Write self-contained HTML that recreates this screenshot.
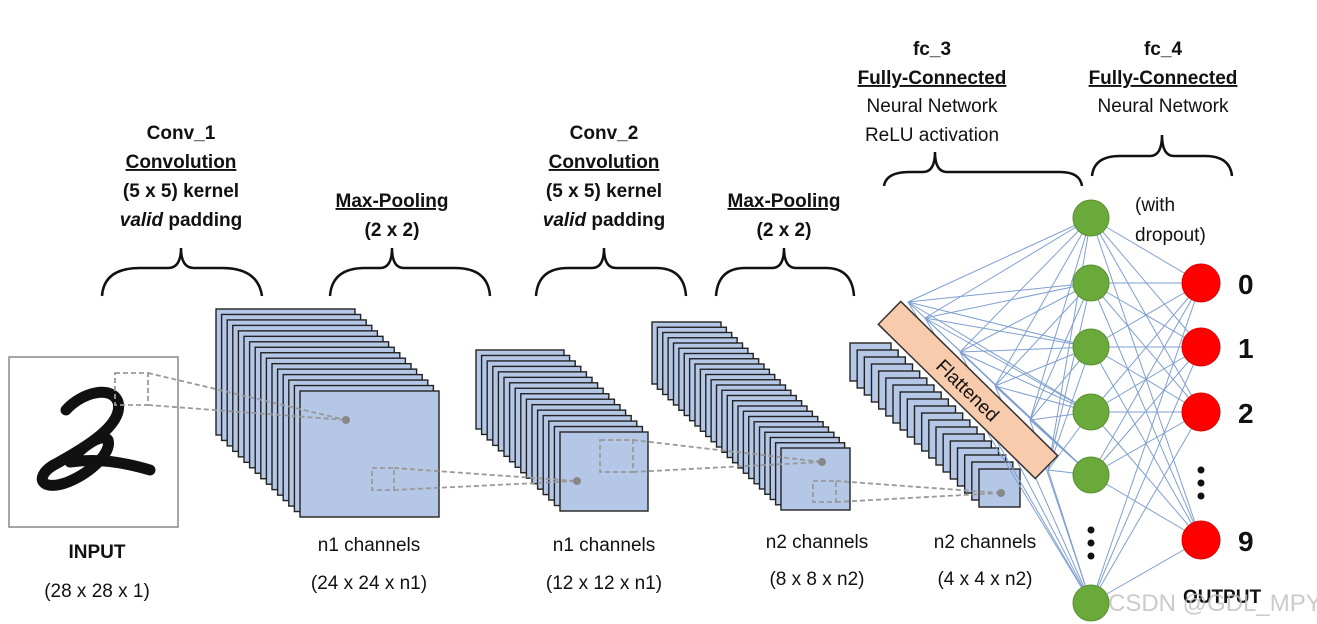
<!DOCTYPE html>
<html><head><meta charset="utf-8"><style>
html,body{margin:0;padding:0;background:#fff;}
svg{display:block;}
text{font-family:"Liberation Sans",sans-serif;font-size:19px;fill:#111;}
.b{font-weight:bold;}
.c{text-anchor:middle;}
</style></head><body>
<svg id="s" width="1317" height="624" viewBox="0 0 1317 624" xmlns="http://www.w3.org/2000/svg">
<g id="braces" fill="none" stroke="#111" stroke-width="2.5">
<path d="M102,296 Q104,268 140,268 L168,268 Q181,268 181,248 Q181,268 194,268 L222,268 Q258,268 262,296"/>
<path d="M330,296 Q332,268 365,268 L380,268 Q392,268 392,248 Q392,268 404,268 L455,268 Q488,268 490,296"/>
<path d="M536,296 Q538,268 568,268 L592,268 Q604,268 604,248 Q604,268 616,268 L656,268 Q684,268 686,296"/>
<path d="M716,296 Q718,268 745,268 L772,268 Q784,268 784,248 Q784,268 796,268 L826,268 Q852,268 854,296"/>
<path d="M884,186 Q886,172 910,172 L923,172 Q935,172 935,152 Q935,172 947,172 L1060,172 Q1080,172 1082,186"/>
<path d="M1092,176 Q1094,156 1120,156 L1150,156 Q1162,156 1162,135 Q1162,156 1174,156 L1205,156 Q1230,156 1232,176"/>
</g>
<g>
<text class="b c" x="181" y="139">Conv_1</text>
<text class="b c" x="181" y="168" text-decoration="underline">Convolution</text>
<text class="b c" x="181" y="197">(5 x 5) kernel</text>
<text class="b c" x="181" y="226"><tspan font-style="italic">valid</tspan> padding</text>
<text class="b c" x="392" y="207" text-decoration="underline">Max-Pooling</text>
<text class="b c" x="392" y="236">(2 x 2)</text>
<text class="b c" x="604" y="139">Conv_2</text>
<text class="b c" x="604" y="168" text-decoration="underline">Convolution</text>
<text class="b c" x="604" y="197">(5 x 5) kernel</text>
<text class="b c" x="604" y="226"><tspan font-style="italic">valid</tspan> padding</text>
<text class="b c" x="784" y="207" text-decoration="underline">Max-Pooling</text>
<text class="b c" x="784" y="236">(2 x 2)</text>
<text class="b c" x="932" y="55">fc_3</text>
<text class="b c" x="932" y="84" text-decoration="underline">Fully-Connected</text>
<text class="c" x="932" y="112">Neural Network</text>
<text class="c" x="932" y="141">ReLU activation</text>
<text class="b c" x="1163" y="55">fc_4</text>
<text class="b c" x="1163" y="84" text-decoration="underline">Fully-Connected</text>
<text class="c" x="1163" y="112">Neural Network</text>
<text x="1135" y="211">(with</text>
<text x="1135" y="241">dropout)</text>
<text class="b c" x="97" y="558">INPUT</text>
<text class="c" x="97" y="597">(28 x 28 x 1)</text>
<text class="c" x="369" y="551">n1 channels</text>
<text class="c" x="369" y="589">(24 x 24 x n1)</text>
<text class="c" x="604" y="551">n1 channels</text>
<text class="c" x="604" y="589">(12 x 12 x n1)</text>
<text class="c" x="817" y="548">n2 channels</text>
<text class="c" x="817" y="585">(8 x 8 x n2)</text>
<text class="c" x="985" y="548">n2 channels</text>
<text class="c" x="985" y="585">(4 x 4 x n2)</text>
</g>
<rect x="9" y="357" width="169" height="170" fill="#fff" stroke="#888" stroke-width="1.5"/>
<path d="M66,410 C82,392 112,385 118,402 C124,425 85,448 52,466 C34,478 42,492 68,482 C92,472 112,452 108,440 C102,432 80,448 70,462 C98,458 122,462 150,470" fill="none" stroke="#111" stroke-width="11" stroke-linejoin="round" stroke-linecap="round"/>
<g id="stacks"></g>
<g fill="none" stroke="#999" stroke-width="1.8" stroke-dasharray="5,3">
<rect x="115" y="373" width="33" height="32"/>
<path d="M148,373 L346,420 M148,405 L346,420"/>
<rect x="372" y="468" width="22" height="22"/>
<path d="M394,468 L577,481 M394,490 L577,481"/>
<rect x="600" y="440" width="33" height="32"/>
<path d="M633,440 L822,462 M633,472 L822,462"/>
<rect x="813" y="481" width="23" height="21"/>
<path d="M836,481 L1001,493 M836,502 L1001,493"/>
</g>
<g fill="#888"><circle cx="346" cy="420" r="4"/><circle cx="577" cy="481" r="4"/><circle cx="822" cy="462" r="4"/><circle cx="1001" cy="493" r="4"/></g>
<g id="lines" stroke="#7f9fd0" stroke-width="1"></g>
<g transform="translate(968,390) rotate(44.5)">
<rect x="-110" y="-16" width="220" height="32" fill="#f8cbad" stroke="#333" stroke-width="1.5"/>
<text class="c" x="0" y="7" font-size="17">Flattened</text>
</g>
<g id="nodes"></g>
<g fill="#111">
<circle cx="1091" cy="530" r="3.5"/><circle cx="1091" cy="543" r="3.5"/><circle cx="1091" cy="556" r="3.5"/>
<circle cx="1201" cy="470" r="3.5"/><circle cx="1201" cy="483" r="3.5"/><circle cx="1201" cy="496" r="3.5"/>
</g>
<g class="b" font-size="28">
<text class="b" x="1238" y="294" style="font-size:28px">0</text>
<text class="b" x="1238" y="358" style="font-size:28px">1</text>
<text class="b" x="1238" y="423" style="font-size:28px">2</text>
<text class="b" x="1238" y="551" style="font-size:28px">9</text>
</g>
<text class="b c" x="1222" y="603">OUTPUT</text>
<text x="1108" y="611" style="font-size:24px;fill:rgba(190,190,190,0.8)">CSDN @GDL_MPY</text>
</svg>
<script>
var NS="http://www.w3.org/2000/svg";
function el(p,t,a){var e=document.createElementNS(NS,t);for(var k in a)e.setAttribute(k,a[k]);p.appendChild(e);return e;}
var st=document.getElementById("stacks");
[[216,309,139,126,16,84,82],[476,350,88,79,16,84,82],[652,322,69,62,25,129,126],[850,343,41,38,19,129,126]].forEach(function(s){
 for(var i=0;i<s[4];i++){var x=s[0]+s[5]*i/(s[4]-1),y=s[1]+s[6]*i/(s[4]-1);
 el(st,"rect",{x:x,y:y,width:s[2],height:s[3],fill:"#b4c7e7",stroke:"#222","stroke-width":1.4});}
});
var G=[218,283,347,412,475,603],R=[283,347,412,540];
var L=document.getElementById("lines");
var F=[[908,302],[925,318],[960,352],[995,386],[1030,420],[1048,470]];
F.forEach(function(f){G.forEach(function(g){el(L,"line",{x1:f[0],y1:f[1],x2:1091,y2:g});});});
G.forEach(function(g){R.forEach(function(r){el(L,"line",{x1:1091,y1:g,x2:1201,y2:r});});});
var N=document.getElementById("nodes");
G.forEach(function(g){el(N,"circle",{cx:1091,cy:g,r:18,fill:"#6aaa3a",stroke:"#5a8f30","stroke-width":1});});
R.forEach(function(r){el(N,"circle",{cx:1201,cy:r,r:19,fill:"#ff0000",stroke:"#d00","stroke-width":1});});
</script>
</body></html>
